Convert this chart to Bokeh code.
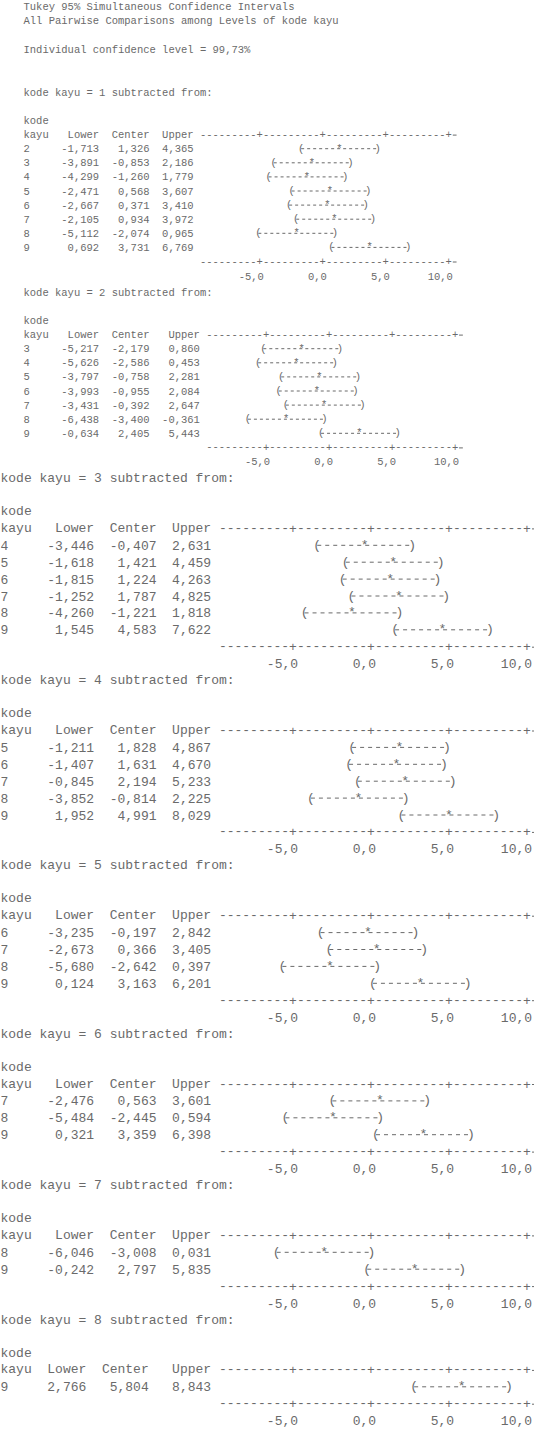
from bokeh.plotting import figure
from bokeh.layouts import column
from bokeh.models import Range1d, ColumnDataSource
from bokeh.core.properties import value
from bokeh.embed import file_html
from bokeh.resources import INLINE

# ---------------- data ----------------
title_lines = ["Tukey 95% Simultaneous Confidence Intervals",
               "All Pairwise Comparisons among Levels of kode kayu"]
confidence_line = "Individual confidence level = 99,73%"
factor_words = ["kode", "kayu"]
column_names = ["Lower", "Center", "Upper"]

tick_values = [-5.0, 0.0, 5.0, 10.0]
tick_labels = ["-5,0", "0,0", "5,0", "10,0"]

base_levels = [1, 2, 3, 4, 5, 6, 7, 8]

levels_1 = [2, 3, 4, 5, 6, 7, 8, 9]
lower_1 = [-1.713, -3.891, -4.299, -2.471, -2.667, -2.105, -5.112, 0.692]
center_1 = [1.326, -0.853, -1.260, 0.568, 0.371, 0.934, -2.074, 3.731]
upper_1 = [4.365, 2.186, 1.779, 3.607, 3.410, 3.972, 0.965, 6.769]

levels_2 = [3, 4, 5, 6, 7, 8, 9]
lower_2 = [-5.217, -5.626, -3.797, -3.993, -3.431, -6.438, -0.634]
center_2 = [-2.179, -2.586, -0.758, -0.955, -0.392, -3.400, 2.405]
upper_2 = [0.860, 0.453, 2.281, 2.084, 2.647, -0.361, 5.443]

levels_3 = [4, 5, 6, 7, 8, 9]
lower_3 = [-3.446, -1.618, -1.815, -1.252, -4.260, 1.545]
center_3 = [-0.407, 1.421, 1.224, 1.787, -1.221, 4.583]
upper_3 = [2.631, 4.459, 4.263, 4.825, 1.818, 7.622]

levels_4 = [5, 6, 7, 8, 9]
lower_4 = [-1.211, -1.407, -0.845, -3.852, 1.952]
center_4 = [1.828, 1.631, 2.194, -0.814, 4.991]
upper_4 = [4.867, 4.670, 5.233, 2.225, 8.029]

levels_5 = [6, 7, 8, 9]
lower_5 = [-3.235, -2.673, -5.680, 0.124]
center_5 = [-0.197, 0.366, -2.642, 3.163]
upper_5 = [2.842, 3.405, 0.397, 6.201]

levels_6 = [7, 8, 9]
lower_6 = [-2.476, -5.484, 0.321]
center_6 = [0.563, -2.445, 3.359]
upper_6 = [3.601, 0.594, 6.398]

levels_7 = [8, 9]
lower_7 = [-6.046, -0.242]
center_7 = [-3.008, 2.797]
upper_7 = [0.031, 5.835]

levels_8 = [9]
lower_8 = [2.766]
center_8 = [5.804]
upper_8 = [8.843]

sections = [
    (levels_1, lower_1, center_1, upper_1),
    (levels_2, lower_2, center_2, upper_2),
    (levels_3, lower_3, center_3, upper_3),
    (levels_4, lower_4, center_4, upper_4),
    (levels_5, lower_5, center_5, upper_5),
    (levels_6, lower_6, center_6, upper_6),
    (levels_7, lower_7, center_7, upper_7),
    (levels_8, lower_8, center_8, upper_8),
]

# ---------------- layout / style ----------------
W = 534
PAGE_TOP = 8
PAGE_BOTTOM = 1436
FONT = "Liberation Mono"
TXT = "#6a6a6a"
SMALL = dict(cw=6.3, x0=23.0, fs="10.5px", L=14.1, a=28.0, lab=14.5, dash="3 3")
LARGE = dict(cw=7.8, x0=0.0, fs="13px", L=16.9, a=33.0, lab=16.9, dash="4 4")
GAP = 17.0


def fmt(v):
    return f"{v:.3f}".replace(".", ",")


def add_text(p, xs, ys, texts, fs, align="left", x_offset=0):
    src = ColumnDataSource(dict(x=xs, y=ys, t=texts))
    p.text(x="x", y="y", text="t", source=src, text_align=align,
           text_baseline="middle", text_font=value(FONT),
           text_font_size=value(fs), text_color=TXT, x_offset=x_offset)


# header positions (page y)
headers = [100.0, 300.0, 486.0]
for i in range(2, 7):
    st = LARGE
    n = len(sections[i][0])
    labels_y = headers[i] + st["a"] + (n + 2) * st["L"] + st["lab"]
    headers.append(labels_y + GAP)

bounds = [PAGE_TOP, 292, 478] + [int(round(h - 8)) for h in headers[3:]] + [PAGE_BOTTOM]

figs = []
for i, (levels, lower, center, upper) in enumerate(sections):
    st = SMALL if i < 2 else LARGE
    cw, x0, fs, L, a, lab = st["cw"], st["x0"], st["fs"], st["L"], st["a"], st["lab"]
    top, bottom = bounds[i], bounds[i + 1]
    height = bottom - top

    lower_s = [fmt(v) for v in lower]
    center_s = [fmt(v) for v in center]
    upper_s = [fmt(v) for v in upper]
    lower_end = 12 if max(len(s) for s in lower_s) >= 6 else 11
    center_end = lower_end + 8
    upper_end = 27 if max(len(s) for s in upper_s) <= 5 else 28
    A = upper_end + 1

    ppu = 2 * cw
    xs = -5 - (x0 + cw * (A + 9.5)) / ppu
    xe = xs + W / ppu

    def cx(c, xs=xs, ppu=ppu, x0=x0, cw=cw):
        return xs + (x0 + cw * c) / ppu

    p = figure(width=W, height=height, x_range=Range1d(xs, xe),
               y_range=Range1d(height, 0), output_backend="svg",
               toolbar_location=None, x_axis_location=None,
               y_axis_location=None, min_border=0)
    p.grid.visible = False
    p.outline_line_color = None
    p.background_fill_color = "white"
    p.border_fill_color = "white"

    def yy(py, top=top):
        return py - top

    h = headers[i]
    if i == 0:
        add_text(p, [cx(0)] * 3, [yy(14), yy(28), yy(57)],
                 title_lines + [confidence_line], fs)

    y_kode = h + a
    y_kayu = y_kode + L
    y_rows = [y_kayu + L * (k + 1) for k in range(len(levels))]
    y_axis = y_kayu + L * (len(levels) + 1)
    y_lab = y_axis + lab

    # section header and column headings
    add_text(p, [cx(0), cx(0), cx(0)], [yy(h), yy(y_kode), yy(y_kayu)],
             [f"{factor_words[0]} {factor_words[1]} = {base_levels[i]} subtracted from:",
              factor_words[0], factor_words[1]], fs)
    add_text(p, [cx(lower_end), cx(center_end), cx(upper_end)], [yy(y_kayu)] * 3,
             column_names, fs, align="right")

    # table values
    ys_rows = [yy(y) for y in y_rows]
    add_text(p, [cx(0)] * len(levels), ys_rows, [str(v) for v in levels], fs)
    add_text(p, [cx(lower_end)] * len(levels), ys_rows, lower_s, fs, "right")
    add_text(p, [cx(center_end)] * len(levels), ys_rows, center_s, fs, "right")
    add_text(p, [cx(upper_end)] * len(levels), ys_rows, upper_s, fs, "right")

    # ascii axis lines (top and bottom): dashes, "+" at the ticks, trailing dash
    dash_str = "".join(" " if k % 10 == 9 else "-" for k in range(40))
    for yline in (y_kayu, y_axis):
        add_text(p, [cx(A)], [yy(yline)], [dash_str], fs)
        add_text(p, tick_values, [yy(yline)] * 4, ["+"] * 4, fs, "center")
        p.segment(x0=[tick_values[-1] + 0.32], x1=[min(tick_values[-1] + 0.62, xe)],
                  y0=[yy(yline) + 0.5], y1=[yy(yline) + 0.5],
                  line_color=TXT, line_width=1)
    add_text(p, tick_values, [yy(y_lab)] * 4, tick_labels, fs, "right", x_offset=0.65 * cw)

    # intervals
    src = ColumnDataSource(dict(lo=lower, ce=center, up=upper, y=ys_rows))
    p.segment(x0="lo", x1="up", y0="y", y1="y", source=src, line_color=TXT,
              line_width=1, line_dash=st["dash"])
    for col, ch in (("lo", "("), ("up", ")"), ("ce", "*")):
        p.text(x=col, y="y", text=value(ch), source=src, text_align="center",
               text_baseline="middle", text_font=value(FONT),
               text_font_size=value(fs), text_color=TXT)
    figs.append(p)

layout = column(*figs, spacing=0)
open("out.html", "w").write(file_html(layout, INLINE))
